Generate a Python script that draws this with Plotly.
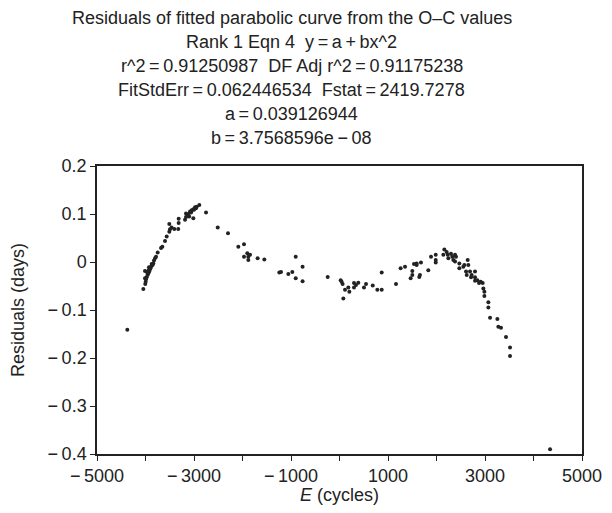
import plotly.graph_objects as go

# epoch E (cycles) and residuals (days)
E = [-4375, -4045, -4005, -3996, -4010, -3977, -4010, -3957, -3942, -3922,
     -3907, -3928, -3886, -3872, -3839, -3825, -3804, -3783, -3749, -3680,
     -3653, -3598, -3563, -3509, -3495, -3509, -3462, -3406, -3325, -3316,
     -3316, -3185, -3165, -3165, -3117, -3082, -3047, -3014, -2979, -2944,
     -2890, -3014, -2752, -2511, -2299, -2086, -1969, -1969, -1901, -1880,
     -1845, -1880, -1688, -1550, -1241, -1206, -1055, -973, -903, -761,
     -903, -761, -243, 25, 44, 64, 79, 114, 182, 203,
     299, 299, 340, 388, 505, 547, 685, 780, 870, 870,
     1165, 1260, 1351, 1467, 1501, 1501, 1536, 1590, 1590, 1645,
     1659, 1680, 1831, 1887, 1984, 1984, 1984, 2141, 2162, 2210,
     2231, 2244, 2299, 2326, 2347, 2382, 2402, 2382, 2471, 2471,
     2553, 2574, 2643, 2656, 2609, 2623, 2691, 2725, 2794, 2712,
     2794, 2794, 2842, 2877, 2911, 2952, 2966, 2987, 2987, 3069,
     3069, 3104, 3255, 3275, 3330, 3433, 3516, 3516, 4341,
     -3990, -3965, -3935, -3900, -3860, -3120, -3060, -3000, -2960, -3100]
resid = [-0.141, -0.056, -0.046, -0.041, -0.034, -0.032, -0.019, -0.027, -0.024, -0.020,
         -0.015, -0.011, -0.010, -0.004, -0.003, 0.003, 0.008, 0.011, 0.020, 0.029,
         0.032, 0.044, 0.053, 0.063, 0.068, 0.079, 0.072, 0.069, 0.069, 0.081,
         0.090, 0.088, 0.094, 0.101, 0.098, 0.105, 0.108, 0.110, 0.114, 0.115,
         0.119, 0.091, 0.103, 0.072, 0.060, 0.032, 0.037, 0.011, 0.018, 0.011,
         0.015, 0.004, 0.008, 0.005, -0.022, -0.021, -0.025, -0.021, 0.011, -0.010,
         -0.034, -0.040, -0.031, -0.038, -0.041, -0.046, -0.076, -0.058, -0.053, -0.062,
         -0.044, -0.053, -0.048, -0.043, -0.053, -0.046, -0.049, -0.058, -0.058, -0.022,
         -0.046, -0.013, -0.010, -0.034, -0.027, -0.019, -0.004, -0.006, -0.003, -0.031,
         -0.027, -0.001, -0.017, 0.011, 0.015, 0.004, -0.001, 0.015, 0.026, 0.021,
         0.015, 0.008, 0.017, 0.011, 0.004, 0.015, 0.011, 0.001, -0.003, -0.013,
         -0.010, -0.006, 0.004, -0.006, -0.020, -0.027, -0.020, -0.027, -0.020, -0.032,
         -0.032, -0.039, -0.038, -0.044, -0.041, -0.044, -0.055, -0.062, -0.071, -0.084,
         -0.095, -0.116, -0.119, -0.135, -0.137, -0.156, -0.178, -0.196, -0.390,
         -0.036, -0.022, -0.017, -0.013, -0.007, 0.100, 0.103, 0.109, 0.112, 0.095]

title_lines = [
    "Residuals of fitted parabolic curve from the O\u2013C values",
    "Rank 1 Eqn 4\u00a0\u00a0y\u2009=\u2009a\u2009+\u2009bx^2",
    "r^2\u2009=\u20090.91250987\u00a0\u00a0DF Adj r^2\u2009=\u20090.91175238",
    "FitStdErr\u2009=\u20090.062446534\u00a0\u00a0Fstat\u2009=\u20092419.7278",
    "a\u2009=\u20090.039126944",
    "b\u2009=\u20093.7568596e\u2009\u2212\u200908",
]


def lab(v, fmt):
    s = fmt.format(abs(v))
    return ("\u2212\u2009" + s) if v < 0 else s


x_ticks = list(range(-5000, 5001, 1000))
x_labels = [lab(v, "{:d}") if v % 2000 else "" for v in x_ticks]
y_ticks = [0.2, 0.1, 0, -0.1, -0.2, -0.3, -0.4]
y_labels = [lab(v, "{:g}") for v in y_ticks]

font = "Liberation Sans, Arial, sans-serif"

fig = go.Figure(go.Scatter(
    x=E, y=resid, mode="markers",
    marker=dict(size=4, color="#222222"),
    showlegend=False))

# page is drawn with an 8px body margin, so positions are set in figure pixels
fig.update_layout(
    width=612, height=513,
    plot_bgcolor="white", paper_bgcolor="white",
    margin=dict(l=89, r=38, t=158, b=67),
    font=dict(family=font, size=18, color="#222222"),
)
for i, t in enumerate(title_lines):
    fig.add_annotation(text=t, xref="paper", yref="paper",
                       x=0.402, y=(446 - (10 + 24 * i)) / 288,
                       xanchor="center", yanchor="middle", showarrow=False,
                       font=dict(size=18))
fig.add_annotation(text="Residuals (days)", xref="paper", yref="paper",
                   x=-0.163, y=0.5, textangle=-90, showarrow=False,
                   xanchor="center", yanchor="middle", font=dict(size=18))
fig.add_annotation(text="<i>E</i> (cycles)", xref="paper", yref="paper",
                   x=0.5, y=-0.142, showarrow=False,
                   xanchor="center", yanchor="middle", font=dict(size=18))

fig.update_xaxes(range=[-5000, 5000], tickvals=x_ticks, ticktext=x_labels,
                 ticks="outside", ticklen=5, tickwidth=1.2, tickcolor="#222",
                 showline=True, linecolor="#222", linewidth=1.5, mirror=True,
                 showgrid=False, zeroline=False, automargin=False)
fig.update_yaxes(range=[-0.4, 0.2], tickvals=y_ticks, ticktext=y_labels,
                 ticks="outside", ticklen=5, tickwidth=1.2, tickcolor="#222",
                 showline=True, linecolor="#222", linewidth=1.5, mirror=True,
                 showgrid=False, zeroline=False, automargin=False)

fig.write_html("out.html")
